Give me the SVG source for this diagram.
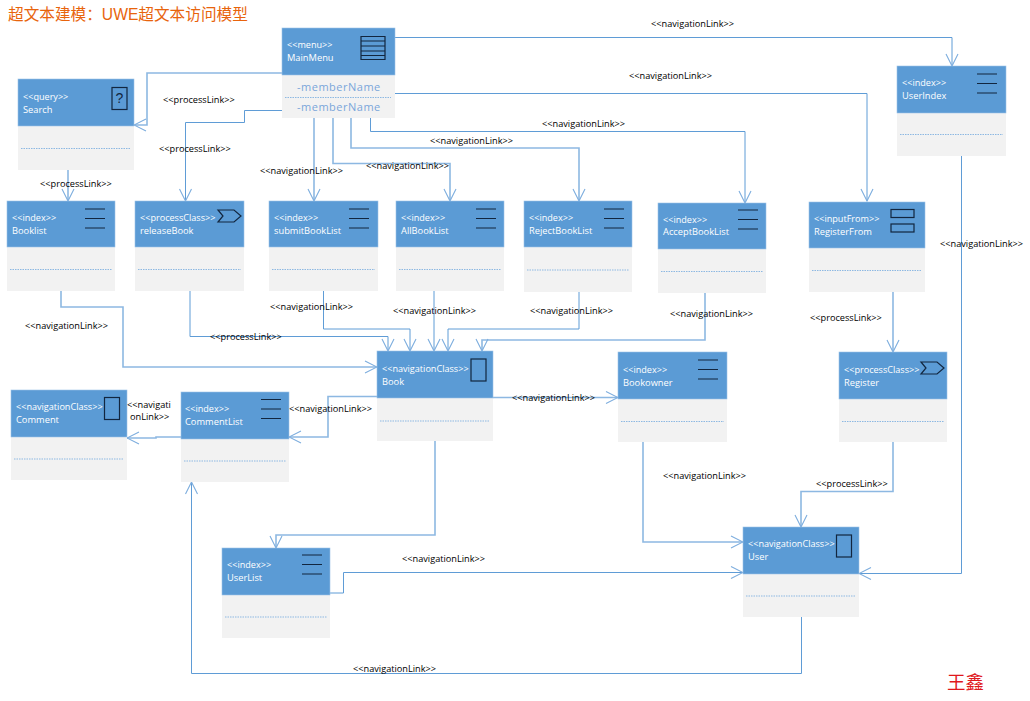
<svg xmlns="http://www.w3.org/2000/svg" xmlns:xlink="http://www.w3.org/1999/xlink" width="1030" height="701" viewBox="0 0 1030 701">
<style>
text{font-family:"Liberation Sans","Noto Sans CJK SC",sans-serif}
.h{fill:#5b9bd5;stroke:#9dc3e6;stroke-width:.6}
.b{fill:#f2f2f2}
.d{stroke:#8db8e2;stroke-width:1;stroke-dasharray:1.5 1;fill:none}
.s{font-size:9.1px;fill:#fff;font-family:"Open Sans","Liberation Sans",sans-serif}
.n{font-size:9.3px;fill:#fff;font-family:"Open Sans","Liberation Sans",sans-serif}
.l{font-size:9.2px;fill:#000;font-family:"Open Sans","Liberation Sans",sans-serif}
.c{fill:none;stroke:#8db8e2;stroke-width:1.6}
.t{fill:none;stroke:#5f9cd6;stroke-width:1}
.i{fill:none;stroke:#12263f;stroke-width:1.2}
.m{font-size:11px;fill:#7aa6da;letter-spacing:.5px;font-family:"Open Sans","Liberation Sans",sans-serif}
</style>
<defs>
<marker id="a" markerUnits="userSpaceOnUse" markerWidth="14" markerHeight="14" refX="13" refY="7" orient="auto"><path d="M1 1L13 7L1 13" fill="none" stroke="#7dadde" stroke-width="1.1"/></marker>
<g id="idx"><path class="i" d="M0 0H20M0 9.500H20M0 19H20"/></g>
<g id="proc"><path class="i" d="M0 0H16L23 6L16 12H0L5 6Z"/></g>
<g id="nav"><rect class="i" x="0" y="0" width="15" height="22"/></g>
</defs>
<text x="8" y="20" font-size="15.65" fill="#e8640c">超文本建模：UWE超文本访问模型</text>
<text x="947" y="689" font-size="18.5" fill="#e0181c">王鑫</text>

<g id="connectors">
<path class="t" marker-end="url(#a)" d="M395 37.500H952V66"/>
<path class="c" marker-end="url(#a)" d="M282 73H147V125H134"/>
<path class="t" marker-end="url(#a)" d="M282 110.500H244.500V122.500H185.500V201"/>
<path class="c" marker-end="url(#a)" d="M314 118V201"/>
<path class="c" marker-end="url(#a)" d="M333 118V163.500H450V201"/>
<path class="c" marker-end="url(#a)" d="M351 118V148H579V201"/>
<path class="t" marker-end="url(#a)" d="M370.500 118V131.500H745V203"/>
<path class="t" marker-end="url(#a)" d="M395 93.500H867V201"/>
<path class="c" marker-end="url(#a)" d="M68 166V201"/>
<path class="t" marker-end="url(#a)" d="M961.500 156V573.500H859"/>
<path class="c" marker-end="url(#a)" d="M61 291V307H123V367H377"/>
<path class="t" marker-end="url(#a)" d="M190 291V336.500H388V351"/>
<path class="t" marker-end="url(#a)" d="M323.500 287V329H410V351"/>
<path class="t" marker-end="url(#a)" d="M434 291V351"/>
<path class="t" marker-end="url(#a)" d="M579 292V329H448V351"/>
<path class="c" marker-end="url(#a)" d="M705 292V340H482V351"/>
<path class="c" marker-end="url(#a)" d="M893 292V352"/>
<path class="c" marker-end="url(#a)" d="M493 397.500H618"/>
<path class="c" marker-end="url(#a)" d="M377 396.500H328V437H289"/>
<path class="c" marker-end="url(#a)" d="M181 437H156V438H127"/>
<path class="c" marker-end="url(#a)" d="M435 441V535H276V548"/>
<path class="c" marker-end="url(#a)" d="M643 442V542H743"/>
<path class="c" marker-end="url(#a)" d="M893 442V491.500H801V527"/>
<path class="t" marker-end="url(#a)" d="M330 593H343.500V572.500H743"/>
<path class="t" marker-end="url(#a)" d="M801.500 617V673.500H191.500V482"/>
</g>

<g id="labels">
<text class="l" x="651" y="27">&lt;&lt;navigationLink&gt;&gt;</text>
<text class="l" x="629" y="79">&lt;&lt;navigationLink&gt;&gt;</text>
<text class="l" x="163" y="103">&lt;&lt;processLink&gt;&gt;</text>
<text class="l" x="159" y="152">&lt;&lt;processLink&gt;&gt;</text>
<text class="l" x="542" y="127">&lt;&lt;navigationLink&gt;&gt;</text>
<text class="l" x="430" y="144">&lt;&lt;navigationLink&gt;&gt;</text>
<text class="l" x="366" y="169">&lt;&lt;navigationLink&gt;&gt;</text>
<text class="l" x="260" y="174">&lt;&lt;navigationLink&gt;&gt;</text>
<text class="l" x="40" y="187">&lt;&lt;processLink&gt;&gt;</text>
<text class="l" x="940" y="247">&lt;&lt;navigationLink&gt;&gt;</text>
<text class="l" x="270" y="310">&lt;&lt;navigationLink&gt;&gt;</text>
<text class="l" x="393" y="314">&lt;&lt;navigationLink&gt;&gt;</text>
<text class="l" x="530" y="314">&lt;&lt;navigationLink&gt;&gt;</text>
<text class="l" x="670" y="317">&lt;&lt;navigationLink&gt;&gt;</text>
<text class="l" x="810" y="321">&lt;&lt;processLink&gt;&gt;</text>
<text class="l" x="25" y="329">&lt;&lt;navigationLink&gt;&gt;</text>
<text class="l" x="210" y="340">&lt;&lt;processLink&gt;&gt;</text>
<text class="l" x="512" y="401">&lt;&lt;navigationLink&gt;&gt;</text>
<text class="l" x="289" y="412">&lt;&lt;navigationLink&gt;&gt;</text>
<text class="l" x="127" y="408">&lt;&lt;navigati</text>
<text class="l" x="130" y="420">onLink&gt;&gt;</text>
<text class="l" x="663" y="479">&lt;&lt;navigationLink&gt;&gt;</text>
<text class="l" x="816" y="487">&lt;&lt;processLink&gt;&gt;</text>
<text class="l" x="402" y="562">&lt;&lt;navigationLink&gt;&gt;</text>
<text class="l" x="353" y="672">&lt;&lt;navigationLink&gt;&gt;</text>
</g>

<g id="MainMenu"><rect class="b" x="282" y="75" width="113" height="43"/><rect class="h" x="282" y="28" width="113" height="47"/><text class="s" x="287" y="48">&lt;&lt;menu&gt;&gt;</text><text class="n" x="287" y="61">MainMenu</text><path class="i" d="M361 36.500H385V59.500H361ZM361 41H385M361 46H385M361 51H385M361 55.500H385"/><text class="m" x="297" y="91">-memberName</text><path class="d" d="M285 97.500H391"/><text class="m" x="297" y="111">-memberName</text></g>
<g id="Search"><rect class="b" x="18" y="126" width="116" height="44"/><rect class="h" x="18" y="79" width="116" height="47"/><text class="s" x="23" y="100">&lt;&lt;query&gt;&gt;</text><text class="n" x="23" y="113">Search</text><rect class="i" x="112" y="87.500" width="15" height="22"/><text x="115.500" y="103" font-size="14" fill="#12263f">?</text><path class="d" d="M21 148.500H131"/></g>
<g id="UserIndex"><rect class="b" x="897" y="113" width="109" height="43"/><rect class="h" x="897" y="66" width="109" height="47"/><text class="s" x="902" y="86">&lt;&lt;index&gt;&gt;</text><text class="n" x="902" y="99">UserIndex</text><use xlink:href="#idx" href="#idx" x="977" y="74"/><path class="d" d="M900 134.500H1003"/></g>
<g id="Booklist"><rect class="b" x="7" y="247" width="108" height="44"/><rect class="h" x="7" y="201" width="108" height="46"/><text class="s" x="12" y="221">&lt;&lt;index&gt;&gt;</text><text class="n" x="12" y="234">Booklist</text><use xlink:href="#idx" href="#idx" x="85" y="209"/><path class="d" d="M10 269.500H112"/></g>
<g id="releaseBook"><rect class="b" x="135" y="247" width="109" height="44"/><rect class="h" x="135" y="201" width="109" height="46"/><text class="s" x="140" y="221">&lt;&lt;processClass&gt;&gt;</text><text class="n" x="140" y="234">releaseBook</text><use xlink:href="#proc" href="#proc" x="218" y="210"/><path class="d" d="M138 269.500H241"/></g>
<g id="submitBookList"><rect class="b" x="269" y="247" width="109" height="44"/><rect class="h" x="269" y="201" width="109" height="46"/><text class="s" x="274" y="221">&lt;&lt;index&gt;&gt;</text><text class="n" x="274" y="234">submitBookList</text><use xlink:href="#idx" href="#idx" x="349" y="209"/><path class="d" d="M272 269.500H375"/></g>
<g id="AllBookList"><rect class="b" x="396" y="247" width="108" height="44"/><rect class="h" x="396" y="201" width="108" height="46"/><text class="s" x="401" y="221">&lt;&lt;index&gt;&gt;</text><text class="n" x="401" y="234">AllBookList</text><use xlink:href="#idx" href="#idx" x="476" y="209"/><path class="d" d="M399 269.500H501"/></g>
<g id="RejectBookList"><rect class="b" x="524" y="247" width="108" height="45"/><rect class="h" x="524" y="201" width="108" height="46"/><text class="s" x="529" y="221">&lt;&lt;index&gt;&gt;</text><text class="n" x="529" y="234">RejectBookList</text><use xlink:href="#idx" href="#idx" x="604" y="209"/><path class="d" d="M527 270H629"/></g>
<g id="AcceptBookList"><rect class="b" x="658" y="249" width="108" height="44"/><rect class="h" x="658" y="203" width="108" height="46"/><text class="s" x="663" y="223">&lt;&lt;index&gt;&gt;</text><text class="n" x="663" y="235">AcceptBookList</text><use xlink:href="#idx" href="#idx" x="738" y="210"/><path class="d" d="M661 271.500H763"/></g>
<g id="RegisterFrom"><rect class="b" x="809" y="248" width="116" height="44"/><rect class="h" x="809" y="202" width="116" height="46"/><text class="s" x="814" y="222">&lt;&lt;inputFrom&gt;&gt;</text><text class="n" x="814" y="235">RegisterFrom</text><rect class="i" x="891" y="209.500" width="23" height="8"/><rect class="i" x="891" y="224" width="23" height="8"/><path class="d" d="M812 270.500H922"/></g>
<g id="Book"><rect class="b" x="377" y="398" width="116" height="43"/><rect class="h" x="377" y="351" width="116" height="47"/><text class="s" x="382" y="372">&lt;&lt;navigationClass&gt;&gt;</text><text class="n" x="382" y="385">Book</text><use xlink:href="#nav" href="#nav" x="471" y="359"/><path class="d" d="M380 421H490"/></g>
<g id="Bookowner"><rect class="b" x="618" y="399" width="109" height="43"/><rect class="h" x="618" y="352" width="109" height="47"/><text class="s" x="623" y="373">&lt;&lt;index&gt;&gt;</text><text class="n" x="623" y="386">Bookowner</text><use xlink:href="#idx" href="#idx" x="698" y="360"/><path class="d" d="M621 421.500H724"/></g>
<g id="Register"><rect class="b" x="839" y="399" width="108" height="43"/><rect class="h" x="839" y="352" width="108" height="47"/><text class="s" x="844" y="373">&lt;&lt;processClass&gt;&gt;</text><text class="n" x="844" y="386">Register</text><use xlink:href="#proc" href="#proc" x="921" y="362"/><path class="d" d="M842 421.500H944"/></g>
<g id="Comment"><rect class="b" x="11" y="437" width="116" height="43"/><rect class="h" x="11" y="390" width="116" height="47"/><text class="s" x="16" y="410">&lt;&lt;navigationClass&gt;&gt;</text><text class="n" x="16" y="423">Comment</text><use xlink:href="#nav" href="#nav" x="104.500" y="397.500"/><path class="d" d="M14 459H124"/></g>
<g id="CommentList"><rect class="b" x="181" y="439" width="108" height="43"/><rect class="h" x="181" y="392" width="108" height="47"/><text class="s" x="185" y="412">&lt;&lt;index&gt;&gt;</text><text class="n" x="185" y="425">CommentList</text><use xlink:href="#idx" href="#idx" x="261" y="399.500"/><path class="d" d="M184 461H286"/></g>
<g id="User"><rect class="b" x="743" y="574" width="116" height="43"/><rect class="h" x="743" y="527" width="116" height="47"/><text class="s" x="748" y="547">&lt;&lt;navigationClass&gt;&gt;</text><text class="n" x="748" y="560">User</text><use xlink:href="#nav" href="#nav" x="836.500" y="535"/><path class="d" d="M746 596H856"/></g>
<g id="UserList"><rect class="b" x="222" y="595" width="108" height="43"/><rect class="h" x="222" y="548" width="108" height="47"/><text class="s" x="227" y="568">&lt;&lt;index&gt;&gt;</text><text class="n" x="227" y="581">UserList</text><use xlink:href="#idx" href="#idx" x="302" y="555"/><path class="d" d="M225 617H327"/></g>
</svg>
